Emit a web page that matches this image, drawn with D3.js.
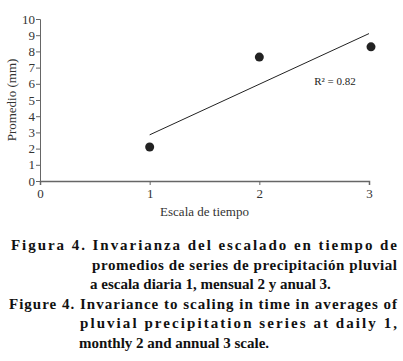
<!DOCTYPE html>
<html lang="es">
  <head>
    <meta charset="utf-8" />
    <title>Figura 4</title>
    <script src="https://cdnjs.cloudflare.com/ajax/libs/d3/7.8.5/d3.min.js"></script>
    <style>
      body { margin: 0; background: #fff; }
      .axis text { font-family: "Liberation Serif", "Times New Roman", serif; font-size: 13px; fill: #333; }
      .axis path, .axis line { stroke: #666; }
      .caption { font-family: "Liberation Serif", "Times New Roman", serif; font-size: 15px; font-weight: bold; fill: #111; }
    </style>
  </head>
  <body>
    <script>
      const width = 403;
      const height = 361;
      const marginTop = 19;
      const marginLeft = 40;
      const plotBottom = 181;

      // data
      const escala = [1, 2, 3];
      const promedio = [2.1, 7.65, 8.28];
      const trendX = [1, 3];
      const trendY = [2.85, 9.1];
      const yTicks = [0, 1, 2, 3, 4, 5, 6, 7, 8, 9, 10];
      const xTicks = [0, 1, 2, 3];
      const r2Label = "R² = 0.82";

      const captionLines = [
        { text: "Figura 4. Invarianza del escalado en tiempo de", x: 11, y: 250, justify: true },
        { text: "promedios de series de precipitación pluvial", x: 92, y: 270, justify: true },
        { text: "a escala diaria 1, mensual 2 y anual 3.", x: 90, y: 289, justify: false },
        { text: "Figure 4. Invariance to scaling in time in averages of", x: 9, y: 309, justify: true },
        { text: "pluvial precipitation series at daily 1,", x: 80, y: 328, justify: true },
        { text: "monthly 2 and annual 3 scale.", x: 79, y: 348, justify: false }
      ];

      const x = d3.scaleLinear([0, 3], [marginLeft, 369]);
      const y = d3.scaleLinear([0, 10], [plotBottom, marginTop]);

      const svg = d3.select("body").append("svg")
        .attr("width", width)
        .attr("height", height)
        .attr("viewBox", [0, 0, width, height]);

      // x axis
      svg.append("g")
        .attr("class", "axis")
        .attr("transform", `translate(0, ${plotBottom})`)
        .call(d3.axisBottom(x).tickValues(xTicks).tickFormat(d3.format("d"))
          .tickSizeOuter(0).tickSize(4).tickPadding(4))
        .call(g => g.select(".domain").attr("stroke-width", 1.5));

      // y axis
      svg.append("g")
        .attr("class", "axis")
        .attr("transform", `translate(${marginLeft}, 0)`)
        .call(d3.axisLeft(y).tickValues(yTicks).tickFormat(d3.format("d"))
          .tickSizeOuter(0).tickSize(4).tickPadding(1));

      // axis titles
      svg.append("text")
        .attr("transform", `translate(16, ${(marginTop + plotBottom) / 2}) rotate(-90)`)
        .attr("text-anchor", "middle")
        .attr("font-family", "Liberation Serif, serif")
        .attr("font-size", 13)
        .attr("fill", "#333")
        .text("Promedio (mm)");

      svg.append("text")
        .attr("x", x(1.5))
        .attr("y", 216)
        .attr("text-anchor", "middle")
        .attr("font-family", "Liberation Serif, serif")
        .attr("font-size", 13)
        .attr("fill", "#333")
        .text("Escala de tiempo");

      // trend line
      svg.append("line")
        .attr("x1", x(trendX[0])).attr("y1", y(trendY[0]))
        .attr("x2", x(trendX[1])).attr("y2", y(trendY[1]))
        .attr("stroke", "#222")
        .attr("stroke-width", 1);

      // points
      svg.selectAll("circle")
        .data(escala)
        .join("circle")
        .attr("cx", (d, i) => x(d) + (i === 2 ? 2 : 0))
        .attr("cy", (d, i) => y(promedio[i]))
        .attr("r", 4.5)
        .attr("fill", "#222");

      svg.append("text")
        .attr("x", x(2.5))
        .attr("y", 85)
        .attr("font-family", "Liberation Serif, serif")
        .attr("font-size", 11)
        .attr("fill", "#222")
        .text(r2Label);

      // caption
      svg.selectAll("text.caption")
        .data(captionLines)
        .join("text")
        .attr("class", "caption")
        .attr("x", d => d.x)
        .attr("y", d => d.y)
        .each(function (d) {
          if (d.justify) {
            d3.select(this)
              .attr("textLength", 397 - d.x)
              .attr("lengthAdjust", "spacing");
          }
        })
        .text(d => d.text);
    </script>
  </body>
</html>
